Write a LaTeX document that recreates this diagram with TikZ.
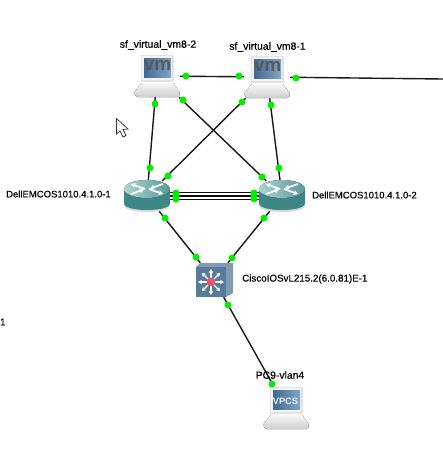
\documentclass[tikz,border=0pt]{standalone}
\usepackage{fontspec}
\setmainfont{Liberation Sans}
\newfontfamily\lblfont[FakeBold=0.4]{Liberation Sans}
\usetikzlibrary{arrows.meta}
\definecolor{portgreen}{RGB}{0,240,0}
\definecolor{teal1}{RGB}{62,135,135}
\definecolor{teal2}{RGB}{175,210,210}
\definecolor{swfront}{RGB}{88,122,155}
\definecolor{swside}{RGB}{130,155,178}
\definecolor{screenblue}{RGB}{75,125,175}
\definecolor{hub}{RGB}{228,85,110}
\tikzset{
  device/.style={inner sep=0pt,minimum width=#1},
  hostnode/.style={device=46pt,minimum height=42pt},
  routernode/.style={device=46pt,minimum height=30pt},
  switchnode/.style={device=38pt,minimum height=34pt},
  link/.style={line width=1.4pt,black!90},
  thinlink/.style={line width=1.15pt,black!95},
  port/.style={circle,fill=portgreen,inner sep=0pt,minimum size=7pt},
  lbl/.style={inner sep=0pt,text=black},
  lblA/.style={lbl,font=\lblfont\fontsize{10.4pt}{12pt}\selectfont},
  lblB/.style={lbl,font=\lblfont\fontsize{9.5pt}{12pt}\selectfont},
  lblC/.style={lbl,font=\lblfont\fontsize{9.8pt}{12pt}\selectfont},
  routerarrow/.style={white,line width=1.7pt,-{Stealth[length=4.5pt,width=5pt]}},
}
\newcommand{\hosticon}[2]{%
\begin{scope}[shift={(#1,#2)}]
  \fill[white] (-17,-22) rectangle (18,7);
  \fill[top color=gray!6,bottom color=gray!38] (-15,7) -- (16,7) -- (22,15) .. controls (23.5,18) and (23,20) .. (20,21) -- (-19,21) .. controls (-22,20) and (-23,18) .. (-22,15) -- cycle;
  \fill[gray!22] (-16,-21) rectangle (17,6);
  \fill[gray!8] (-15,-20) rectangle (15,4);
  \fill[left color=screenblue!85!black,right color=screenblue!70!white] (-13,-18) rectangle (14,1);
\end{scope}}
\newcommand{\routericon}[2]{%
\begin{scope}[shift={(#1,#2)}]
  \fill[gray!30] (-23,-7) -- (-23,9) .. controls (-23,14) and (-12,16) .. (0,16) .. controls (12,16) and (23,14) .. (23,9) -- (23,-7) -- cycle;
  \fill[teal1] (-23,-7) -- (-23,7) .. controls (-23,12) and (-12,14) .. (0,14) .. controls (12,14) and (23,12) .. (23,7) -- (23,-7) -- cycle;
  \fill[left color=teal2,right color=teal1!85!white] (0,-7) ellipse (23 and 9);
  \draw[routerarrow] (-2,-7) -- (-16,-12);
  \draw[routerarrow] (2,-7) -- (16,-2);
  \draw[routerarrow] (-16,-2) -- (-3,-6.5);
  \draw[routerarrow] (16,-12) -- (3,-7.5);
\end{scope}}
\begin{document}
\begin{tikzpicture}[x=1pt,y=-1pt]
\useasboundingbox (0,0) rectangle (443,451);
\fill[white] (0,0) rectangle (443,451);
% device nodes
\node[hostnode] (vm2) at (157,76) {};
\node[hostnode] (vm1) at (267,77) {};
\node[routernode] (r1) at (147,196) {};
\node[routernode] (r2) at (282,196) {};
\node[switchnode] (sw) at (214,280) {};
\node[hostnode] (pc) at (286,408) {};
\coordinate (east) at (443,79);
% links
\draw[link] (vm2) -- (vm1);
\draw[link] (vm1) -- (east);
\draw[link] (vm2) -- (r1);
\draw[link] (vm2) -- (r2);
\draw[link] (vm1) -- (r1);
\draw[link] (vm1) -- (r2);
\draw[thinlink] ([yshift=3.3pt]r1.east) -- ([yshift=3.3pt]r2.west);
\draw[thinlink] (r1.east) -- (r2.west);
\draw[thinlink] ([yshift=-3.3pt]r1.east) -- ([yshift=-3.3pt]r2.west);
\draw[link] (r1) -- (sw);
\draw[link] (r2) -- (sw);
\draw[link] (sw) -- (pc);
% icons
\hosticon{157}{76}
\node[inner sep=0pt,text=black!65,font=\fontsize{19pt}{19pt}\bfseries\selectfont] (vm2t) at (157.5,65.5) {vm};
\hosticon{267}{77}
\node[inner sep=0pt,text=black!65,font=\fontsize{19pt}{19pt}\bfseries\selectfont] (vm1t) at (267.5,66.5) {vm};
\hosticon{286}{408}
\node[inner sep=0pt,text=white!92!blue,font=\fontsize{9.3pt}{11pt}\bfseries\selectfont] (pct) at (285.5,401) {VPCS};
\routericon{147}{196}
\routericon{282}{196}
% switch
\fill[swside] (196,267) -- (200,263) -- (233,263) -- (233,293) -- (226,297) -- (196,297) -- cycle;
\fill[swfront] (196,267) rectangle (226,297);
\foreach \a in {0,45,...,315}
  \draw[white,line width=1.3pt,-{Stealth[length=4pt,width=4.5pt]}] (211,282) -- ++(\a:13);
\fill[hub] (211,282) circle (4.5);
% ports
\node[port] (p1) at (186,76) {};
\node[port] (p2) at (239,76) {};
\node[port] (p3) at (296,78) {};
\node[port] (p4) at (155,104) {};
\node[port] (p5) at (183,100) {};
\node[port] (p6) at (242,102) {};
\node[port] (p7) at (271,105) {};
\node[port] (p8) at (150,168) {};
\node[port] (p9) at (168,176) {};
\node[port] (p10) at (262,177) {};
\node[port] (p11) at (279,168) {};
\node[port] (p12) at (176,193) {};
\node[port] (p13) at (176,196) {};
\node[port] (p14) at (176,199) {};
\node[port] (p15) at (254,193) {};
\node[port] (p16) at (254,196) {};
\node[port] (p17) at (254,199) {};
\node[port] (p18) at (165,218) {};
\node[port] (p19) at (264,218) {};
\node[port] (p20) at (196,257) {};
\node[port] (p21) at (232,258) {};
\node[port] (p22) at (228,305) {};
\node[port] (p23) at (272,384) {};
% labels
\node[lblA] (l1) at (158,45) {sf\_virtual\_vm8-2};
\node[lblA] (l2) at (267.5,47) {sf\_virtual\_vm8-1};
\node[lblB,anchor=west] (l3) at (6,194) {DellEMCOS1010.4.1.0-1};
\node[lblB,anchor=west] (l4) at (312,195) {DellEMCOS1010.4.1.0-2};
\node[lblC,anchor=west] (l5) at (242,279) {CiscoIOSvL215.2(6.0.81)E-1};
\node[lblA] (l6) at (280,375) {PC9-vlan4};
\node[lblB,anchor=west] (l7) at (0,322) {1};
% mouse cursor
\draw[black!80,fill=white,line width=.7pt,line join=miter] (116.5,118.5) -- (116.5,134) -- (120,131) -- (123,137) -- (126,135.5) -- (123,129.5) -- (128,129) -- cycle;
\end{tikzpicture}
\end{document}
